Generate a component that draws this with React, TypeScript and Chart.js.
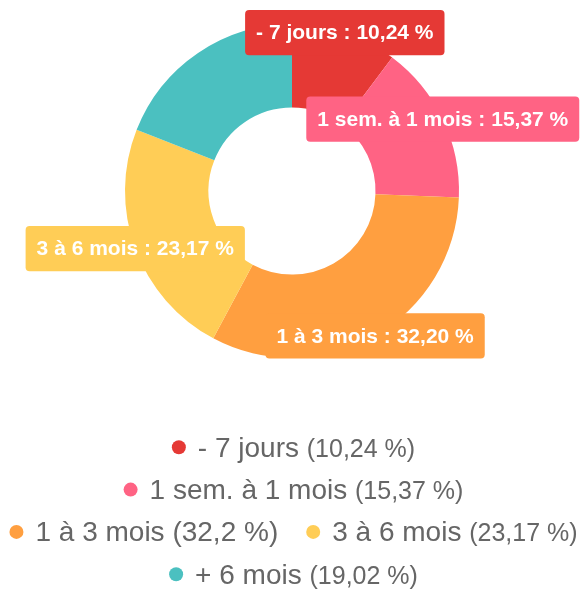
import React, { useEffect, useRef } from "react";
import { Chart, registerables } from "chart.js";

Chart.register(...registerables);

// ---- data ----
const categories = ["- 7 jours", "1 sem. à 1 mois", "1 à 3 mois", "3 à 6 mois", "+ 6 mois"];
const shares = [10.24, 15.37, 32.2, 23.17, 19.02];
const colors = ["#e53935", "#ff6384", "#ff9f40", "#ffcd56", "#4bc0c0"];

// ---- styles ----
const FONT = "'Liberation Sans', Arial, Helvetica, sans-serif";
const LABEL_FONT_SIZE = 21;
const LEGEND_MAIN_SIZE = 28;
const LEGEND_PCT_SIZES = [25, 25, 28, 25, 25];
const LEGEND_COLOR = "#666666";

const fmtFixed = (v: number) => v.toFixed(2).replace(".", ",");
const fmtShort = (v: number) => String(v).replace(".", ",");

const arcLabelPlugin = {
  id: "arcLabels",
  afterDatasetsDraw(chart: any) {
    const ctx: CanvasRenderingContext2D = chart.ctx;
    const meta = chart.getDatasetMeta(0);
    const drawn: { x: number; y: number; w: number; h: number }[] = [];
    ctx.save();
    ctx.font = `bold ${LABEL_FONT_SIZE}px ${FONT}`;
    meta.data.forEach((arc: any, i: number) => {
      const p = arc.getProps(["x", "y", "startAngle", "endAngle", "outerRadius"], true);
      const mid = (p.startAngle + p.endAngle) / 2;
      const ax = p.x + Math.cos(mid) * p.outerRadius;
      const ay = p.y + Math.sin(mid) * p.outerRadius;
      const text = `${chart.data.labels[i]} : ${fmtFixed(chart.data.datasets[0].data[i])} %`;
      const tw = ctx.measureText(text).width;
      const w = tw + 22;
      const h = LABEL_FONT_SIZE * 1.2 + 20;
      const r = { x: ax - w / 2, y: ay - h / 2, w, h };
      const overlaps = drawn.some(
        (d) => r.x < d.x + d.w && d.x < r.x + r.w && r.y < d.y + d.h && d.y < r.y + r.h
      );
      if (overlaps) return;
      drawn.push(r);
      ctx.fillStyle = chart.data.datasets[0].backgroundColor[i];
      ctx.beginPath();
      (ctx as any).roundRect(r.x, r.y, r.w, r.h, 4);
      ctx.fill();
      ctx.fillStyle = "#ffffff";
      ctx.textAlign = "center";
      ctx.textBaseline = "middle";
      ctx.fillText(text, ax, ay + 1);
    });
    ctx.restore();
  },
};

const legendPlugin = {
  id: "htmlLikeLegend",
  afterDraw(chart: any) {
    const ctx: CanvasRenderingContext2D = chart.ctx;
    const labels: string[] = chart.data.labels;
    const data: number[] = chart.data.datasets[0].data;
    const bg: string[] = chart.data.datasets[0].backgroundColor;
    const dotR = 7;
    const dotGap = 12;
    const itemGap = 28;
    const maxW = 576;
    const centerX = 293.5;
    const firstY = 447.3;
    const rowH = 42.3;
    ctx.save();
    const items = labels.map((c, i) => {
      ctx.font = `${LEGEND_MAIN_SIZE}px ${FONT}`;
      const wm = ctx.measureText(c).width;
      const ws = ctx.measureText(" ").width;
      const pct = `(${fmtShort(data[i])} %)`;
      ctx.font = `${LEGEND_PCT_SIZES[i]}px ${FONT}`;
      const wp = ctx.measureText(pct).width;
      return { i, c, pct, wm, ws, wp, w: dotR * 2 + dotGap + wm + ws + wp };
    });
    const rows: (typeof items)[] = [];
    let cur: typeof items = [];
    let curW = 0;
    items.forEach((it) => {
      const add = cur.length ? itemGap + it.w : it.w;
      if (cur.length && curW + add > maxW) {
        rows.push(cur);
        cur = [it];
        curW = it.w;
      } else {
        cur.push(it);
        curW += add;
      }
    });
    if (cur.length) rows.push(cur);

    rows.forEach((row, r) => {
      const total = row.reduce((s, it) => s + it.w, 0) + itemGap * (row.length - 1);
      let x = centerX - total / 2;
      const cy = firstY + r * rowH;
      const base = cy + 9.4;
      row.forEach((it) => {
        ctx.fillStyle = bg[it.i];
        ctx.beginPath();
        ctx.arc(x + dotR, cy, dotR, 0, Math.PI * 2);
        ctx.fill();
        let tx = x + dotR * 2 + dotGap;
        ctx.fillStyle = LEGEND_COLOR;
        ctx.textAlign = "left";
        ctx.textBaseline = "alphabetic";
        ctx.font = `${LEGEND_MAIN_SIZE}px ${FONT}`;
        ctx.fillText(it.c, tx, base);
        tx += it.wm + it.ws;
        ctx.font = `${LEGEND_PCT_SIZES[it.i]}px ${FONT}`;
        ctx.fillText(it.pct, tx, base);
        x += it.w + itemGap;
      });
    });
    ctx.restore();
  },
};

export default function App() {
  const ref = useRef<HTMLCanvasElement>(null);
  useEffect(() => {
    const chart = new Chart(ref.current as HTMLCanvasElement, {
      type: "doughnut",
      data: {
        labels: categories,
        datasets: [
          {
            data: shares,
            backgroundColor: colors,
            borderWidth: 0,
            hoverOffset: 0,
          },
        ],
      },
      options: {
        responsive: false,
        animation: false,
        cutout: "50%",
        layout: { padding: { top: 24, bottom: 234, left: 125, right: 121 } },
        plugins: {
          legend: { display: false },
          tooltip: { enabled: false },
        },
      },
      plugins: [arcLabelPlugin, legendPlugin],
    } as any);
    return () => chart.destroy();
  }, []);
  return (
    <div style={{ position: "absolute", left: 0, top: 0, width: 580, height: 592 }}>
      <canvas ref={ref} width={580} height={592} style={{ display: "block" }} />
    </div>
  );
}
